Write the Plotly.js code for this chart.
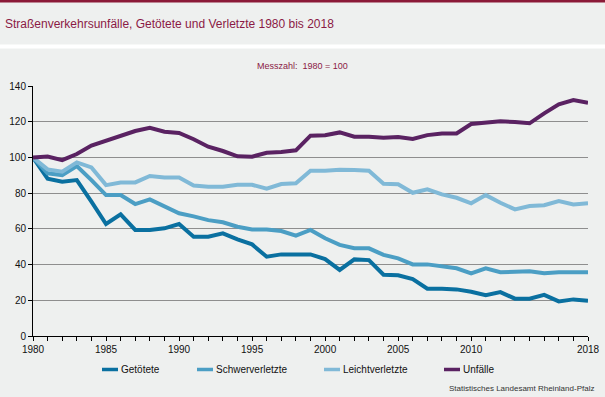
<!DOCTYPE html>
<html>
<head>
<meta charset="utf-8">
<script src="https://cdn.plot.ly/plotly-3.0.1.min.js"></script>
<style>
  html, body { margin: 0; padding: 0; background: #eef0ef; }
  #chart { width: 605px; height: 397px; }
</style>
</head>
<body>
<div id="chart"></div>
<script>
// ---- Data ----
const years = [1980,1981,1982,1983,1984,1985,1986,1987,1988,1989,
               1990,1991,1992,1993,1994,1995,1996,1997,1998,1999,
               2000,2001,2002,2003,2004,2005,2006,2007,2008,2009,
               2010,2011,2012,2013,2014,2015,2016,2017,2018];

const getoetete = [100, 88.1, 86.4, 87.3, 75.2, 62.7, 68.1, 59.4, 59.4, 60.3,
                   62.7, 55.6, 55.6, 57.5, 54.1, 51.3, 44.4, 45.7, 45.7, 45.7,
                   43.1, 37.0, 42.9, 42.5, 34.3, 34.0, 31.9, 26.5, 26.5, 26.1,
                   24.8, 22.8, 24.6, 20.9, 20.9, 23.0, 19.4, 20.5, 19.8];

const schwerverletzte = [100, 91.1, 90.1, 95.2, 87.3, 78.9, 78.9, 73.9, 76.5, 72.4,
                         68.7, 67.0, 64.9, 63.7, 61.2, 59.7, 59.7, 58.8, 56.2, 59.4,
                         54.7, 51.0, 49.1, 49.1, 45.4, 43.5, 40.1, 40.1, 39.2, 37.9,
                         35.1, 37.9, 35.7, 35.7, 36.2, 35.1, 35.7, 35.7, 35.7];

const leichtverletzte = [100, 93.3, 92.0, 97.2, 94.4, 84.5, 86.0, 86.0, 89.6, 88.8,
                         88.8, 84.3, 83.6, 83.6, 84.7, 84.7, 82.5, 85.1, 85.5, 92.6,
                         92.6, 93.1, 92.9, 92.6, 85.3, 85.0, 80.2, 82.1, 79.3, 77.4,
                         74.3, 78.9, 74.6, 70.9, 72.8, 73.2, 75.6, 73.7, 74.3];

const unfaelle = [100, 100.5, 98.5, 101.9, 106.6, 109.2, 112.0, 114.8, 116.6, 114.4,
                  113.7, 110.2, 106.0, 103.6, 100.6, 100.4, 102.6, 103.0, 104.0, 112.2,
                  112.4, 114.0, 111.6, 111.6, 111.0, 111.4, 110.3, 112.5, 113.4, 113.4,
                  118.7, 119.4, 120.2, 119.8, 119.1, 124.7, 129.7, 132.1, 130.6];

const seriesNames = ["Getötete", "Schwerverletzte", "Leichtverletzte", "Unfälle"];
const labeledYears = [1980, 1985, 1990, 1995, 2000, 2005, 2010, 2018];
const yTicks = [0, 20, 40, 60, 80, 100, 120, 140];

const titleText = "Straßenverkehrsunfälle, Getötete und Verletzte 1980 bis 2018";
const subtitleText = "Messzahl:  1980 = 100";
const sourceText = "Statistisches Landesamt Rheinland-Pfalz";

// ---- Styling ----
const colors = ["#0a70a0", "#4b9ec4", "#80b9d7", "#5a2262"];
const seriesData = [getoetete, schwerverletzte, leichtverletzte, unfaelle];
const FONT = "Liberation Sans, Arial, sans-serif";
const W = 605, H = 397;
const M = {l: 33, r: 17, t: 86, b: 61};
const PW = W - M.l - M.r, PH = H - M.t - M.b;
const px = x => (x - M.l) / PW;           // pixel -> paper x
const py = y => (H - M.b - y) / PH;        // pixel -> paper y

const traces = seriesData.map((vals, i) => ({
  x: years, y: vals, type: "scatter", mode: "lines",
  name: seriesNames[i],
  line: {color: colors[i], width: 4},
  showlegend: false, hoverinfo: "skip"
}));

const tickText = years.map(y => labeledYears.includes(y) ? String(y) : "");

// custom legend
const legendSwatchX = [102, 197, 324, 444];
const legendY = 369.5;
const shapes = [
  // top band
  {type: "rect", xref: "paper", yref: "paper", x0: px(0), x1: px(W), y0: py(2.5), y1: py(-1),
   fillcolor: "#8b1a38", line: {width: 0}, layer: "above"},
  // white separator
  {type: "rect", xref: "paper", yref: "paper", x0: px(0), x1: px(W), y0: py(48.5), y1: py(44.5),
   fillcolor: "#ffffff", line: {width: 0}, layer: "above"}
];
const annotations = [
  {text: titleText, xref: "paper", yref: "paper", x: px(3), y: py(24), xanchor: "left", yanchor: "middle",
   showarrow: false, font: {family: FONT, size: 12, color: "#8b1a45"}},
  {text: subtitleText, xref: "paper", yref: "paper", x: px(302), y: py(66), xanchor: "center", yanchor: "middle",
   showarrow: false, font: {family: FONT, size: 9, color: "#8b1a45"}},
  {text: sourceText, xref: "paper", yref: "paper", x: px(596), y: py(388), xanchor: "right", yanchor: "middle",
   showarrow: false, font: {family: FONT, size: 8, color: "#333333"}}
];
seriesNames.forEach((n, i) => {
  const x0 = legendSwatchX[i];
  shapes.push({type: "line", xref: "paper", yref: "paper", x0: px(x0), x1: px(x0 + 16),
               y0: py(legendY), y1: py(legendY), line: {color: colors[i], width: 3.5}});
  annotations.push({text: n, xref: "paper", yref: "paper", x: px(x0 + 17), y: py(legendY - 0.5),
                    xanchor: "left", yanchor: "middle", showarrow: false,
                    font: {family: FONT, size: 10, color: "#111111"}});
});

const layout = {
  width: W, height: H,
  margin: M,
  paper_bgcolor: "#eef0ef", plot_bgcolor: "#eef0ef",
  font: {family: FONT, size: 10, color: "#111111"},
  showlegend: false,
  xaxis: {
    range: [1980, 2018], tickmode: "array", tickvals: years, ticktext: tickText,
    showgrid: false, zeroline: false, showline: true, linecolor: "#000000", linewidth: 1,
    ticks: "outside", ticklen: 4, tickcolor: "#000000", tickwidth: 1,
    tickfont: {family: FONT, size: 10, color: "#111111"}, fixedrange: true
  },
  yaxis: {
    range: [0, 140], tickmode: "array", tickvals: yTicks,
    showgrid: true, gridcolor: "#8e8e8e", gridwidth: 1, zeroline: false,
    showline: true, linecolor: "#000000", linewidth: 1,
    ticks: "outside", ticklen: 4, tickcolor: "#000000", tickwidth: 1,
    tickfont: {family: FONT, size: 10, color: "#111111"}, fixedrange: true
  },
  shapes: shapes,
  annotations: annotations
};

Plotly.newPlot("chart", traces, layout, {displayModeBar: false, staticPlot: true});
</script>
</body>
</html>
